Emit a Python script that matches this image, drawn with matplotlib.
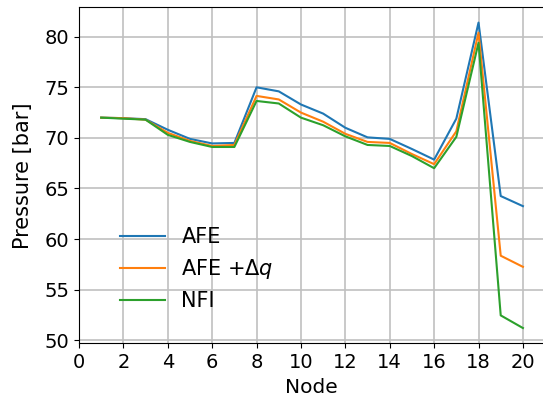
import matplotlib
matplotlib.use('Agg')
import matplotlib.pyplot as plt

# Pressure at each node for the three methods
nodes = list(range(1, 21))
afe = [72.0, 71.95, 71.85, 70.8, 69.9, 69.45, 69.5, 75.0, 74.6, 73.3,
       72.4, 71.0, 70.05, 69.9, 68.9, 67.85, 71.9, 81.4, 64.25, 63.25]
afe_dq = [72.0, 71.95, 71.8, 70.5, 69.7, 69.2, 69.3, 74.15, 73.8, 72.5,
          71.6, 70.4, 69.6, 69.5, 68.4, 67.4, 70.65, 80.4, 58.35, 57.25]
nfi = [72.0, 71.9, 71.8, 70.3, 69.6, 69.1, 69.1, 73.65, 73.4, 72.0,
       71.25, 70.15, 69.3, 69.2, 68.2, 67.0, 70.1, 79.4, 52.45, 51.2]

plt.rcParams['font.size'] = 14

fig = plt.figure(figsize=(5.43, 4.08), dpi=100)
ax = fig.add_axes([79 / 543, (408 - 343.3) / 408, 465 / 543, 336 / 408])

ax.plot(nodes, afe, label='AFE')
ax.plot(nodes, afe_dq, label=r'AFE +$\Delta q$')
ax.plot(nodes, nfi, label='NFI')

ax.set_xlim(left=0)
ax.set_xticks(range(0, 21, 2))
ax.set_yticks(range(50, 81, 5))
ax.grid(True, color='#c0c0c0', linewidth=1.2)
ax.set_axisbelow(True)

ax.set_xlabel('Node', fontsize=14.5)
ax.set_ylabel('Pressure [bar]', fontsize=15, labelpad=8)

ax.legend(frameon=False, loc='lower left', bbox_to_anchor=(0.07, 0.07),
          borderaxespad=0, handlelength=2.15, labelspacing=0.48, fontsize=15)

fig.savefig('out.png', dpi=100)
